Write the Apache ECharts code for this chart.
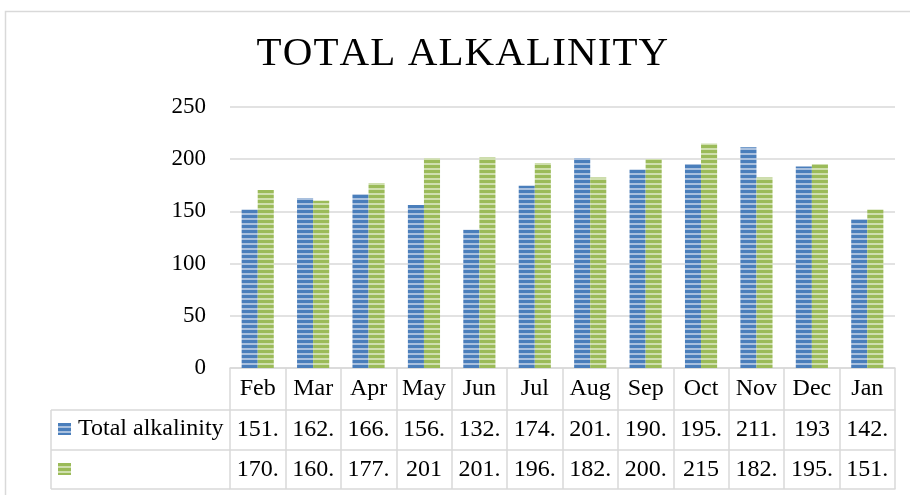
<!DOCTYPE html>
<html><head><meta charset="utf-8">
<script src="https://cdn.jsdelivr.net/npm/echarts@6/dist/echarts.min.js"></script>
<style>html,body{margin:0;padding:0;background:#fff}#c{width:910px;height:495px}</style>
</head><body><div id="c"></div>
<script>
const months = ['Feb','Mar','Apr','May','Jun','Jul','Aug','Sep','Oct','Nov','Dec','Jan'];
const totalAlkalinity = [151.9, 162.9, 166.5, 156.2, 132.4, 174.6, 201.2, 190.2, 195.3, 211.4, 193, 142.6];
const series2 = [170.5, 160.3, 177.3, 201, 201.6, 196.3, 182.4, 200.3, 215, 182.4, 195.5, 151.8];
const seriesNames = ['Total alkalinity', ' '];
const titleText = 'TOTAL ALKALINITY';

const FONT = 'Liberation Serif';
const GRID = '#d9d9d9';

function stripe(dark, light) {
  const c = document.createElement('canvas');
  c.width = 4; c.height = 5;
  const g = c.getContext('2d');
  g.fillStyle = light; g.fillRect(0, 0, 4, 5);
  g.fillStyle = dark; g.fillRect(0, 0, 4, 3);
  return { image: c, repeat: 'repeat' };
}
function cellText(v) {
  return Number.isInteger(v) ? String(v) : Math.floor(v) + '.';
}

const chart = echarts.init(document.getElementById('c'));
const labelStyle = { fontFamily: FONT, fontSize: 24, color: '#000' };

function rowAxis(values, offset) {
  return {
    type: 'category', gridIndex: 0, position: 'bottom', offset: offset,
    data: values ? values.map(cellText) : months.map(() => ''),
    axisLine: { show: true, lineStyle: { color: GRID, width: 1.5 } },
    axisTick: { show: false },
    axisLabel: Object.assign({ show: !!values, interval: 0, margin: 20, verticalAlign: 'middle' }, labelStyle),
    splitLine: { show: false }
  };
}

const titleRich = titleText.split('').map(ch => '{s|' + ch + '}').join('');

chart.setOption({
  animation: false,
  backgroundColor: '#fff',
  title: {
    text: titleRich, left: 256, top: 34, padding: 0,
    textStyle: {
      fontFamily: FONT, fontSize: 41, fontWeight: 'normal', color: '#000',
      rich: { s: { fontFamily: FONT, fontSize: 41, color: '#000', padding: [0, 0.55, 0, 0.55] } }
    }
  },
  grid: { left: 230, right: 15, top: 107, bottom: 127, outerBoundsMode: 'none' },
  legend: {
    orient: 'vertical', left: 58, top: 417, padding: 0, itemWidth: 13, itemHeight: 12, itemGap: 16,
    icon: 'rect', selectedMode: false,
    textStyle: Object.assign({ lineHeight: 24, padding: [0, 0, 0, 2] }, labelStyle),
    data: seriesNames
  },
  xAxis: [
    {
      type: 'category', data: months, position: 'bottom',
      axisLine: { show: true, lineStyle: { color: GRID, width: 1.5 } },
      axisTick: { show: true, interval: 0, length: 121, lineStyle: { color: GRID, width: 1.5 } },
      axisLabel: Object.assign({ interval: 0, margin: 21, verticalAlign: 'middle' }, labelStyle)
    },
    rowAxis(totalAlkalinity, 42),
    rowAxis(series2, 82),
    rowAxis(null, 121)
  ],
  yAxis: {
    type: 'value', min: 0, max: 250, interval: 50,
    axisLine: { show: false }, axisTick: { show: false },
    axisLabel: Object.assign({}, labelStyle, { margin: 24, fontSize: 23 }),
    splitLine: { lineStyle: { color: GRID, width: 1.5 } }
  },
  series: [
    { name: seriesNames[0], type: 'bar', data: totalAlkalinity, barGap: '0%', barCategoryGap: '42%',
      itemStyle: { color: stripe('#4a7ebb', '#a9c0de') } },
    { name: seriesNames[1], type: 'bar', data: series2, barGap: '0%', barCategoryGap: '42%',
      itemStyle: { color: stripe('#9bbb59', '#cfdfae') } }
  ],
  graphic: [
    { type: 'rect', silent: true, shape: { x: 5.5, y: 11.5, width: 1000, height: 1000 },
      style: { fill: 'none', stroke: GRID, lineWidth: 1.5 } },
    { type: 'line', silent: true, shape: { x1: 51, y1: 410, x2: 230, y2: 410 }, style: { stroke: GRID, lineWidth: 1.5 } },
    { type: 'line', silent: true, shape: { x1: 51, y1: 450, x2: 230, y2: 450 }, style: { stroke: GRID, lineWidth: 1.5 } },
    { type: 'line', silent: true, shape: { x1: 51, y1: 489, x2: 230, y2: 489 }, style: { stroke: GRID, lineWidth: 1.5 } },
    { type: 'line', silent: true, shape: { x1: 51, y1: 410, x2: 51, y2: 489 }, style: { stroke: GRID, lineWidth: 1.5 } }
  ]
});
</script>
</body></html>
